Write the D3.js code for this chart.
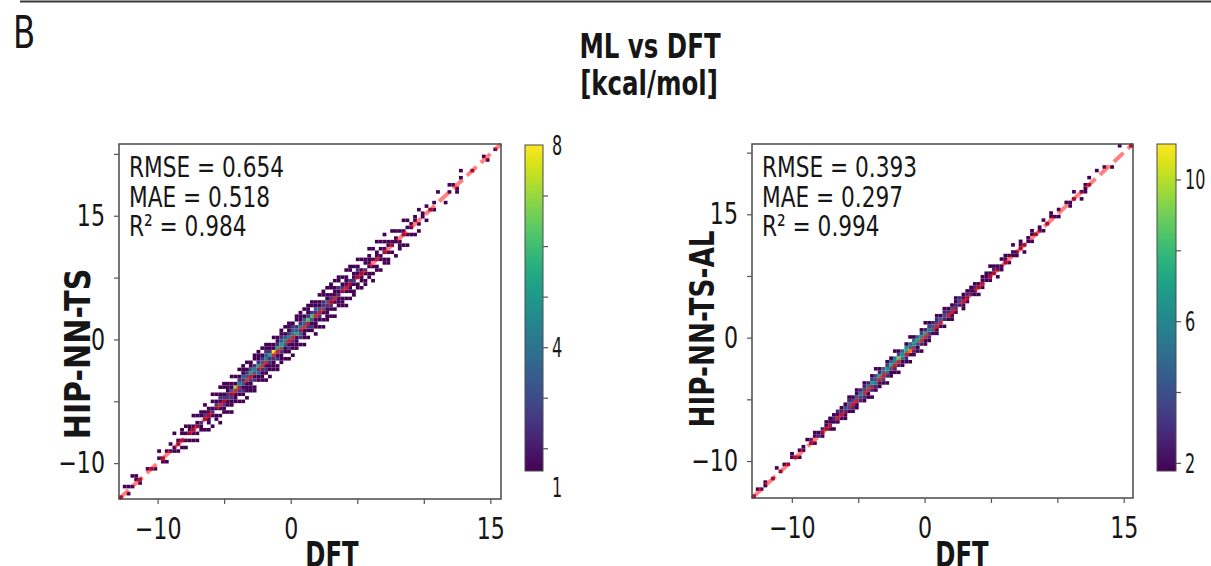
<!DOCTYPE html>
<html>
<head>
<meta charset="utf-8">
<script src="https://cdn.jsdelivr.net/npm/d3@7"></script>
<style>
  body { margin: 0; background: #fff; }
  svg text { font-family: 'DejaVu Sans Condensed', 'Roboto Condensed', sans-serif; fill: #161616; }
</style>
</head>
<body>
<svg id="chart" width="1211" height="566"></svg>
<script>
// ---- data ----
const xTicks = [-10, -5, 0, 5, 10, 15];
const xTickLabels = ["−10", "", "0", "", "", "15"];
const yTicks = [-10, -5, 0, 5, 10, 15];
const yTickLabels = ["−10", "", "0", "", "15", ""];

const tsStats = ["RMSE = 0.654", "MAE = 0.518", "R² = 0.984"];
const alStats = ["RMSE = 0.393", "MAE = 0.297", "R² = 0.994"];

// 2d histogram, 100 DFT bins; each string = counts (hex) for ML bins from diagonal-5 to diagonal+5
const tsCols = [
  "00000100000","00000001000","00001010000","00000100100","00000011000","00001100000","00000000000","00000010000","00000100000","00001000000",
  "00000010100","00001100000","00010010000","00000101000","00001100010","00010110000","00010101100","00101010100","00010111000","00101110010",
  "01010110100","00011201100","00100121010","01011111000","01001210101","00110121010","10101312101","00112121011","01011221110","10112131101",
  "00111371010","01012242101","10121323111","10111432101","01112253110","11021342011","00113252111","01112432101","10121343211","10112252110",
  "01112381101","11021352110","01112453211","01011343101","10121242111","10112343210","01111532011","01023242111","10111433101","01012262111",
  "00121362011","10111323110","01012231101","10101322011","01111231101","01012121011","10101311101","00111212011","01110121010","10101211101",
  "01011120011","01101211010","00110112101","01011110010","01101201100","00110111101","10101010010","00110211001","01001101010","00110110101",
  "01101011000","00010110010","01000110100","00111001000","00100110010","01001010100","00010110000","00100011000","00101000100","00000110000",
  "00010001000","00000100000","00001010000","00000000100","00000000000","00010000000","00000101000","00000010000","00011000000","00000010100",
  "00000000000","00000000000","00000100000","00000000000","00000000000","00000010000","00001000000","00000000010","00000100000","00000010000"
];
const alCols = [
  "00000100000","00000010000","00000100000","00000110000","00000000000","00000100000","00000001000","00000100000","00000010000","00000100000",
  "00000011000","00000100000","00001010000","00000110000","00000001000","00000120000","00001011000","00000210000","00001120000","00000111000",
  "00001211000","00010121000","00001312000","00001221000","00011231000","00001342100","00012231000","00011341100","00002352000","00012432100",
  "00011452000","00102363100","00012543010","00011472100","00013354000","00102563100","00011474100","00012365010","00102493100","00011564000",
  "00012376100","00101b54010","00012465100","00011374000","00102563100","00011472010","00012353100","00001442000","00011332100","00001341000",
  "00010232100","00001321000","00011231000","00001221100","00000232000","00011211000","00001121000","00000211000","00001121000","00010110000",
  "00001211000","00000111000","00001110100","00000121000","00010110000","00001101000","00000111000","00001010000","00000110100","00001100000",
  "00000111000","00010100000","00000110000","00001011000","00000100000","00000110000","00001001000","00000100000","00000011000","00000100000",
  "00001010000","00000000000","00000010000","00001100000","00000101000","00000000000","00010100000","00001110000","00000101000","00000000000",
  "00000001000","00000000000","00000010000","00000000000","00001000000","00000000000","00000000100","00000000000","00000000010","00000100000"
];

const tsCbarTicks = [2, 3, 4, 5, 6, 7];
const tsCbarLabels = [8, 4, 1.23];
const tsCbarText = ["8", "4", "1"];
const alCbarTicks = [2, 4, 6, 8, 10];
const alCbarLabels = [10, 6, 2];
const alCbarText = ["10", "6", "2"];

// ---- layout ----
const svg = d3.select("#chart");
const FONT_TICK = 30;

// squeeze a wide fallback font toward the narrow face of the original
function condense(sel, f) {
  sel.each(function () {
    const len = this.getComputedTextLength();
    d3.select(this).attr("textLength", len * f).attr("lengthAdjust", "spacingAndGlyphs");
  });
}

svg.append("line")
  .attr("x1", 20).attr("x2", 1211).attr("y1", 1.5).attr("y2", 1.5)
  .attr("stroke", "#3a3a3a").attr("stroke-width", 2);

svg.append("text").attr("x", 13).attr("y", 48)
  .style("font-size", "45px").text("B")
  .call(condense, 0.8);

svg.append("text").attr("x", 650).attr("y", 58).attr("text-anchor", "middle")
  .style("font-size", "34px").style("font-weight", "bold").text("ML vs DFT")
  .call(condense, 0.8);
svg.append("text").attr("x", 649).attr("y", 95).attr("text-anchor", "middle")
  .style("font-size", "34px").style("font-weight", "bold").text("[kcal/mol]")
  .call(condense, 0.8);

const panels = [
  {
    cols: tsCols, stats: tsStats, ylabel: "HIP-NN-TS",
    domain: [-12.9, 15.8], box: { x: 119, y: 144, w: 382, h: 355 },
    cmax: 8, cbar: { x: 525, y: 145, w: 18, h: 326 }, cbarDomain: [1.55, 8],
    cbarTicks: tsCbarTicks, cbarLabels: tsCbarLabels, cbarText: tsCbarText,
    ylabelPos: { x: 90, y: 354 }, ylabelSize: 36, ylabelSqueeze: 0.93, xlabelX: 332
  },
  {
    cols: alCols, stats: alStats, ylabel: "HIP-NN-TS-AL",
    domain: [-13.0, 15.7], box: { x: 752, y: 144, w: 381, h: 354 },
    cmax: 11, cbar: { x: 1157, y: 144, w: 19, h: 327 }, cbarDomain: [1.77, 11],
    cbarTicks: alCbarTicks, cbarLabels: alCbarLabels, cbarText: alCbarText,
    ylabelPos: { x: 714, y: 329 }, ylabelSize: 34, ylabelSqueeze: 0.86, xlabelX: 962
  }
];

panels.forEach((p, pi) => {
  const b = p.box;
  const x = d3.scaleLinear().domain(p.domain).range([b.x, b.x + b.w]);
  const y = d3.scaleLinear().domain(p.domain).range([b.y + b.h, b.y]);
  const color = d3.scaleSequential(d3.interpolateViridis).domain([1, p.cmax]);
  const bw = (p.domain[1] - p.domain[0]) / p.cols.length;

  const cells = [];
  p.cols.forEach((s, i) => {
    for (let k = 0; k < s.length; k++) {
      const c = parseInt(s[k], 16);
      const j = i - 5 + k;
      if (c > 0 && j >= 0 && j < p.cols.length) cells.push({ i, j, c });
    }
  });

  const g = svg.append("g");
  g.selectAll("rect.cell").data(cells).enter().append("rect")
    .attr("class", "cell")
    .attr("x", d => x(p.domain[0] + d.i * bw))
    .attr("y", d => y(p.domain[0] + (d.j + 1) * bw))
    .attr("width", d => x(p.domain[0] + (d.i + 1) * bw) - x(p.domain[0] + d.i * bw))
    .attr("height", d => y(p.domain[0] + d.j * bw) - y(p.domain[0] + (d.j + 1) * bw))
    .attr("fill", d => color(d.c));

  // y = x reference line
  g.append("line")
    .attr("x1", x(p.domain[0])).attr("y1", y(p.domain[0]))
    .attr("x2", x(p.domain[1])).attr("y2", y(p.domain[1]))
    .attr("stroke", "#ff1a1a").attr("stroke-opacity", 0.55)
    .attr("stroke-width", 4).attr("stroke-dasharray", "13,6");

  // frame
  g.append("rect").attr("x", b.x).attr("y", b.y).attr("width", b.w).attr("height", b.h)
    .attr("fill", "none").attr("stroke", "#4a4a4a").attr("stroke-width", 1.5);

  const xAxis = g.append("g").attr("transform", `translate(0,${b.y + b.h})`)
    .call(d3.axisBottom(x).tickValues(xTicks).tickSize(5).tickPadding(14)
      .tickFormat((d, i) => xTickLabels[i]));
  const yAxis = g.append("g").attr("transform", `translate(${b.x},0)`)
    .call(d3.axisLeft(y).tickValues(yTicks).tickSize(5).tickPadding(9)
      .tickFormat((d, i) => yTickLabels[i]));
  [xAxis, yAxis].forEach(a => {
    a.select(".domain").remove();
    a.selectAll(".tick line").attr("stroke", "#555").attr("stroke-width", 1.2);
    a.selectAll(".tick text").style("font-size", FONT_TICK + "px").attr("fill", "#161616")
      .filter(function () { return this.textContent !== ""; })
      .call(condense, 0.82);
  });
  xAxis.selectAll(".tick text").attr("dy", "0.71em");

  // stats
  g.selectAll(null).data(p.stats).enter().append("text")
    .attr("x", b.x + 10).attr("y", (d, i) => b.y + 33 + i * 29.5)
    .style("font-size", "29px").text(d => d)
    .call(condense, 0.83);

  // axis labels
  g.append("text").attr("x", p.xlabelX).attr("y", 567).attr("text-anchor", "middle")
    .style("font-size", "36px").style("font-weight", "bold").text("DFT")
    .call(condense, 0.75);
  g.append("text")
    .attr("transform", `translate(${p.ylabelPos.x},${p.ylabelPos.y}) rotate(-90)`)
    .attr("text-anchor", "middle")
    .style("font-size", p.ylabelSize + "px").style("font-weight", "bold").text(p.ylabel)
    .call(condense, p.ylabelSqueeze);

  // colorbar
  const cb = p.cbar;
  const gid = "grad" + pi;
  const grad = svg.append("defs").append("linearGradient").attr("id", gid)
    .attr("x1", 0).attr("y1", 1).attr("x2", 0).attr("y2", 0);
  d3.range(0, 1.0001, 0.05).forEach(t => {
    grad.append("stop").attr("offset", t).attr("stop-color", d3.interpolateViridis(t));
  });
  g.append("rect").attr("x", cb.x).attr("y", cb.y).attr("width", cb.w).attr("height", cb.h)
    .attr("fill", `url(#${gid})`).attr("stroke", "#4a4a4a").attr("stroke-width", 1);
  const cy = d3.scaleLinear().domain(p.cbarDomain).range([cb.y + cb.h, cb.y]);
  const cAxis = g.append("g").attr("transform", `translate(${cb.x + cb.w},0)`)
    .call(d3.axisRight(cy).tickValues(p.cbarTicks).tickSize(5).tickFormat(""));
  cAxis.select(".domain").remove();
  cAxis.selectAll(".tick line").attr("stroke", "#555").attr("stroke-width", 1.2);
  g.selectAll(null).data(p.cbarLabels).enter().append("text")
    .attr("x", cb.x + cb.w + 9).attr("y", d => cy(d)).attr("dy", "0.36em")
    .style("font-size", "27px")
    .text((d, i) => p.cbarText[i])
    .call(condense, 0.66);
});
</script>
</body>
</html>
